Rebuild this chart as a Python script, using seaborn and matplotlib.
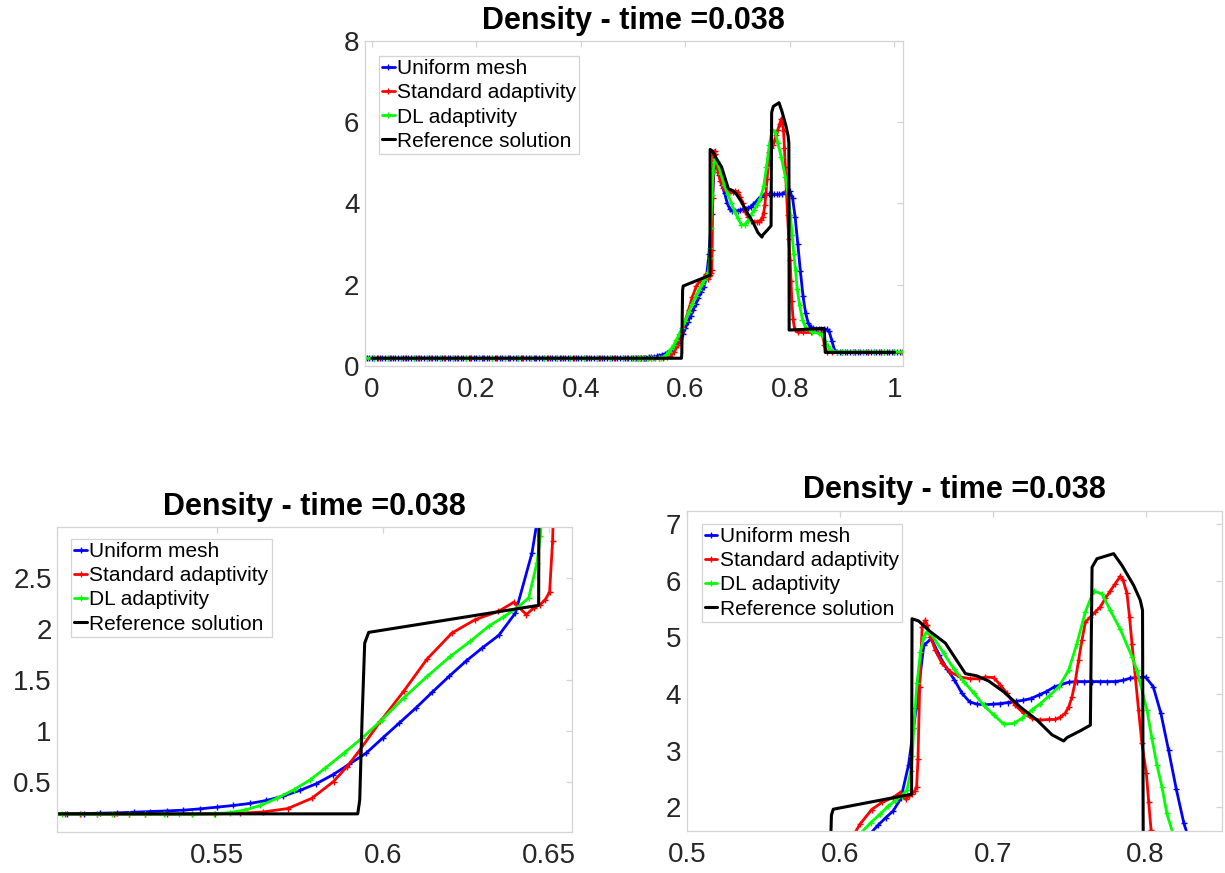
import numpy as np
import matplotlib
matplotlib.use('Agg')
import matplotlib.pyplot as plt
import seaborn as sns

# ---- data (density at t = 0.038) ----

# uniform mesh, dx = 0.005 from -0.01 to 1.01
uniform_x = np.round(np.arange(-2, 203) * 0.005, 4)
uniform_y = (
    [0.185] * 103
    + [0.186, 0.189, 0.192, 0.196, 0.202, 0.209, 0.215, 0.222, 0.235, 0.251,
       0.268, 0.288, 0.317, 0.360, 0.415, 0.481, 0.569, 0.674, 0.780, 0.929,
       1.076, 1.223, 1.380, 1.533, 1.680, 1.812, 1.936, 2.155, 2.744, 3.750,
       4.860, 4.980, 4.690, 4.450, 4.250, 4.010, 3.860, 3.820, 3.810, 3.820,
       3.830, 3.850, 3.870, 3.890, 3.920, 3.980, 4.040, 4.120, 4.170, 4.210,
       4.220, 4.220, 4.220, 4.220, 4.220, 4.220, 4.240, 4.280, 4.290, 4.300,
       4.130, 3.660, 3.010, 2.330, 1.720, 1.300, 1.050, 0.950, 0.920, 0.910,
       0.910, 0.900, 0.900, 0.900, 0.850, 0.620, 0.400, 0.340, 0.330]
    + [0.330] * 23
)

# standard adaptivity (non-uniform cells)
std_x = [-0.0125, 0.0125, 0.0375, 0.0625, 0.0875, 0.1125, 0.1375, 0.1625, 0.1875,
         0.2125, 0.2375, 0.2625, 0.2875, 0.3125, 0.3375, 0.3625, 0.3875, 0.4125,
         0.4375, 0.4625, 0.4875,
         0.5044, 0.5089, 0.5140, 0.5190, 0.5235, 0.5285, 0.5350, 0.5426, 0.5496,
         0.5571, 0.5641, 0.5714, 0.5787, 0.5852, 0.5893, 0.5928, 0.5993, 0.6063,
         0.6134, 0.6209, 0.6279, 0.6349, 0.6395, 0.6433, 0.6455, 0.6475, 0.6490,
         0.6503, 0.6512, 0.6523, 0.6539, 0.6560, 0.6571, 0.6593, 0.6626, 0.6669,
         0.6724, 0.6789, 0.6854, 0.6908, 0.6952, 0.7007, 0.7050, 0.7094, 0.7148,
         0.7203, 0.7257, 0.7312, 0.7366, 0.7410, 0.7442, 0.7475, 0.7497, 0.7519,
         0.7540, 0.7562, 0.7584, 0.7606, 0.7639, 0.7671, 0.7704, 0.7737, 0.7769,
         0.7802, 0.7835, 0.7852, 0.7878, 0.7895, 0.7911, 0.7933, 0.7954, 0.7976,
         0.8005, 0.8020, 0.8036, 0.8060, 0.8090, 0.8150, 0.8250, 0.8400, 0.8550,
         0.8620, 0.8660, 0.8700, 0.8800, 0.9000, 0.9250, 0.9500, 0.9750, 1.0000,
         1.0150]
std_y = [0.183] * 21 + [
         0.183, 0.183, 0.183, 0.183, 0.183, 0.183, 0.183, 0.183, 0.186,
         0.192, 0.205, 0.238, 0.339, 0.503, 0.650, 0.797, 1.092, 1.386,
         1.704, 1.959, 2.090, 2.171, 2.260, 2.139, 2.205, 2.237, 2.286,
         2.360, 2.860, 4.130, 5.190, 5.300, 5.220, 5.010, 4.770, 4.540,
         4.390, 4.300, 4.270, 4.270, 4.300, 4.290, 4.160, 4.010, 3.800,
         3.660, 3.570, 3.540, 3.550, 3.550, 3.590, 3.660, 3.770, 3.950,
         4.220, 4.600, 4.950, 5.270, 5.360, 5.450, 5.540, 5.690, 5.820,
         5.950, 6.080, 6.020, 5.780, 5.360, 4.890, 4.300, 3.720, 3.130,
         2.600, 2.100, 1.590, 1.150, 0.900, 0.830, 0.820, 0.820, 0.820,
         0.780, 0.500, 0.340, 0.330, 0.330, 0.330, 0.330, 0.330, 0.330,
         0.330]

# DL adaptivity
dl_x = [-0.0125, 0.005, 0.030, 0.055, 0.080, 0.105, 0.130, 0.155, 0.180, 0.205,
        0.230, 0.255, 0.280, 0.305, 0.330, 0.355, 0.380, 0.405, 0.430, 0.455,
        0.480, 0.4975,
        0.5034, 0.5090, 0.5140, 0.5185, 0.5235, 0.5285, 0.5340, 0.5386, 0.5426,
        0.5491, 0.5541, 0.5586, 0.5632, 0.5682, 0.5732, 0.5782, 0.5827, 0.5883,
        0.5938, 0.5998, 0.6063, 0.6134, 0.6204, 0.6264, 0.6319, 0.6364, 0.6405,
        0.6440, 0.6465, 0.6475, 0.6484, 0.6506, 0.6528, 0.6549, 0.6571, 0.6604,
        0.6680, 0.6745, 0.6811, 0.6876, 0.6941, 0.7007, 0.7072, 0.7137, 0.7192,
        0.7257, 0.7312, 0.7366, 0.7431, 0.7497, 0.7551, 0.7606, 0.7660, 0.7715,
        0.7769, 0.7835, 0.7911, 0.7943, 0.8009, 0.8041, 0.8074, 0.8107, 0.8139,
        0.8183, 0.8240, 0.8300, 0.8430, 0.8550, 0.8620, 0.8670, 0.8720, 0.8770,
        0.8820, 0.8900, 0.9000, 0.9200, 0.9400, 0.9600, 0.9800, 1.0000, 1.0160]
dl_y = [0.183] * 22 + [
        0.183, 0.183, 0.183, 0.183, 0.183, 0.183, 0.183, 0.183, 0.183,
        0.186, 0.199, 0.225, 0.268, 0.339, 0.421, 0.520, 0.634, 0.780,
        0.929, 1.108, 1.321, 1.533, 1.730, 1.877, 2.024, 2.116, 2.205,
        2.303, 2.646, 2.907, 3.400, 4.200, 4.740, 5.010, 5.100, 5.040,
        4.720, 4.450, 4.220, 4.020, 3.800, 3.630, 3.470, 3.480, 3.570,
        3.720, 3.830, 3.960, 4.120, 4.420, 4.890, 5.450, 5.820, 5.770,
        5.480, 5.140, 4.660, 4.420, 3.720, 3.220, 2.750, 2.360, 1.890,
        1.500, 1.140, 0.935, 0.830, 0.800, 0.770, 0.620, 0.480, 0.390,
        0.360, 0.340, 0.350, 0.340, 0.350, 0.340, 0.340, 0.340, 0.340]

# reference solution
ref_x = [0.0, 0.5925, 0.5931, 0.5938, 0.5946, 0.5958, 0.6470, 0.6473, 0.6506,
         0.6516, 0.6593, 0.6691, 0.6822, 0.6898, 0.6974, 0.7072, 0.7181, 0.7290,
         0.7388, 0.7464, 0.7486, 0.7573, 0.7639, 0.7650, 0.7682, 0.7791, 0.7846,
         0.7922, 0.7965, 0.7980, 0.7985, 0.8656, 0.8675, 1.0]
ref_y = [0.186, 0.186, 0.320, 1.110, 1.860, 1.965, 2.230, 5.330, 5.300,
         5.290, 5.100, 4.900, 4.360, 4.320, 4.230, 4.040, 3.770, 3.540,
         3.280, 3.170, 3.230, 3.350, 3.450, 6.240, 6.390, 6.480, 6.270,
         5.920, 5.660, 5.480, 0.880, 0.920, 0.330, 0.330]

series = [
    (uniform_x, uniform_y, '#0000ff', 'Uniform mesh'),
    (std_x, std_y, '#ff0000', 'Standard adaptivity'),
    (dl_x, dl_y, '#00ff00', 'DL adaptivity'),
]

title = 'Density - time =0.038'

sns.set_style('white')
plt.rcParams['font.family'] = ['Liberation Sans', 'DejaVu Sans']

box_grey = '#d4d4d4'
text_grey = '#262626'


def panel(ax, xlim, ylim, xticks, yticks, leg_anchor):
    for x, y, c, lab in series:
        # '+' markers in the line colour (seaborn would give them white edges)
        sns.lineplot(x=x, y=y, ax=ax, color=c, linewidth=2, marker='+',
                     markersize=4.5, markeredgewidth=1, markeredgecolor=c,
                     sort=False, estimator=None, label=lab)
    sns.lineplot(x=ref_x, y=ref_y, ax=ax, color='black', linewidth=2.2,
                 sort=False, estimator=None, label='Reference solution')

    ax.set_xlim(xlim)
    ax.set_ylim(ylim)
    ax.set_xticks(xticks)
    ax.set_yticks(yticks)
    ax.xaxis.set_major_formatter(lambda v, i: f'{v:g}')
    ax.yaxis.set_major_formatter(lambda v, i: f'{v:g}')
    ax.set_xlabel('')
    ax.set_ylabel('')

    # matlab-like box with inward ticks all round
    for s in ax.spines.values():
        s.set_visible(True)
        s.set_color(box_grey)
        s.set_linewidth(0.9)
    ax.tick_params(direction='in', length=4, width=0.9, color=box_grey,
                   labelcolor=text_grey, labelsize=20, top=True, right=True)
    ax.tick_params(axis='x', pad=8)
    ax.tick_params(axis='y', pad=4)

    ax.set_title(title, fontsize=22, fontweight='bold', pad=9, color='black')

    leg = ax.legend(loc='upper left', bbox_to_anchor=leg_anchor,
                    borderaxespad=0, fontsize=15, handlelength=0.6,
                    handletextpad=0.12, labelspacing=0.25, borderpad=0.15,
                    fancybox=False, framealpha=1, edgecolor=box_grey)
    leg.get_frame().set_linewidth(0.9)
    for t in leg.get_texts():
        t.set_color('black')


fig = plt.figure(figsize=(12.25, 8.73), dpi=100)

ax_top = fig.add_axes([0.298, 0.581, 0.439, 0.372])
panel(ax_top, (-0.013, 1.016), (0, 8), [0, 0.2, 0.4, 0.6, 0.8, 1],
      [0, 2, 4, 6, 8], (0.026, 0.954))

ax_left = fig.add_axes([0.0468, 0.0466, 0.42, 0.3494])
panel(ax_left, (0.502, 0.657), (0.005, 2.995), [0.55, 0.6, 0.65],
      [0.5, 1, 1.5, 2, 2.5], (0.027, 0.962))

ax_right = fig.add_axes([0.5606, 0.0481, 0.437, 0.367])
panel(ax_right, (0.5, 0.85), (1.58, 7.24), [0.5, 0.6, 0.7, 0.8],
      [2, 3, 4, 5, 6, 7], (0.028, 0.9585))

fig.savefig('out.png', dpi=100, facecolor='white')
